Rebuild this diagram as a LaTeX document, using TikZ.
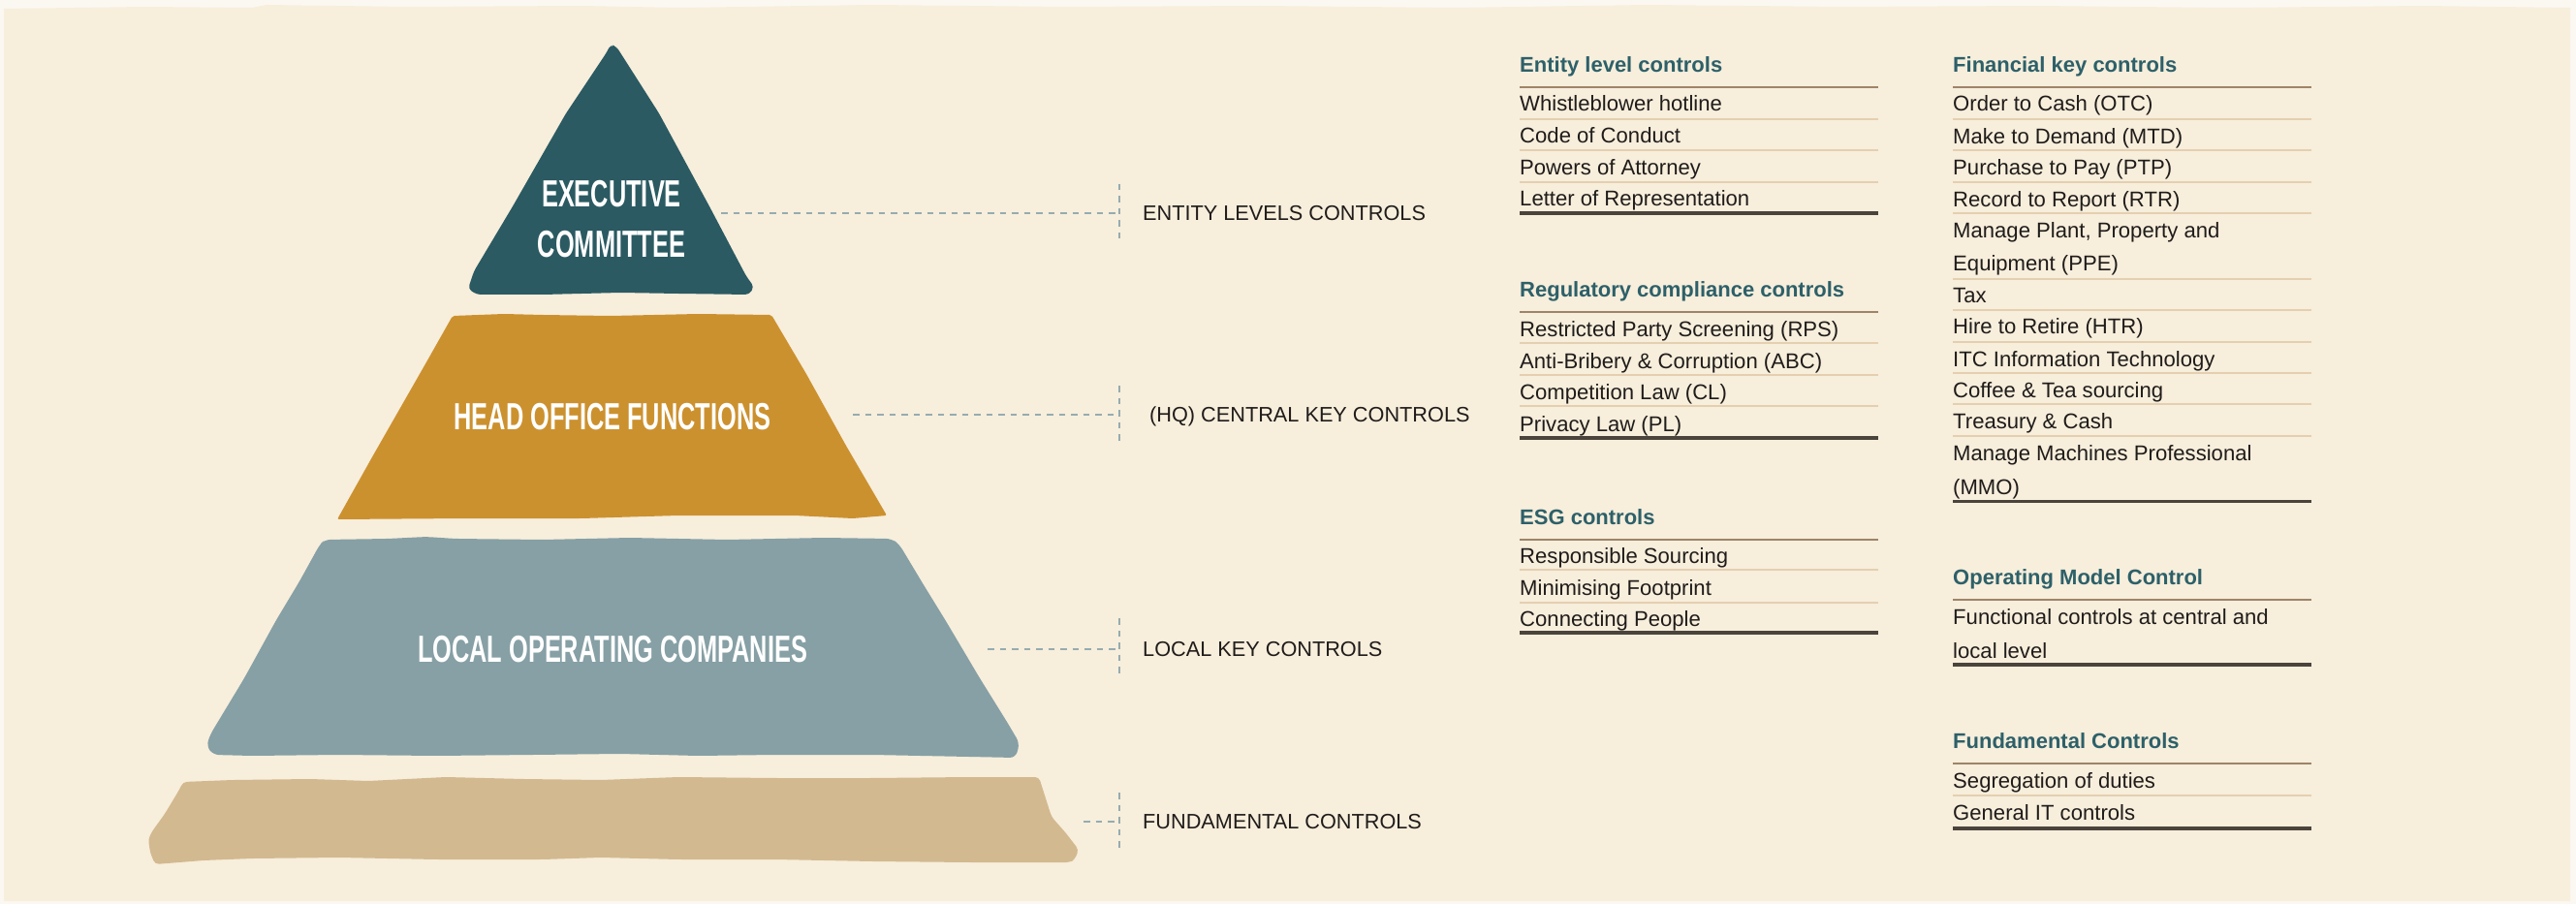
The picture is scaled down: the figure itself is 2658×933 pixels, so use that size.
\documentclass[tikz,border=0pt]{standalone}
\usepackage{fontspec}
\setmainfont{Liberation Sans}
\newfontfamily\condfont[FakeStretch=0.65]{Liberation Sans}
\definecolor{bgout}{HTML}{FBF8F2}
\definecolor{bg}{HTML}{F7EEDC}
\definecolor{execc}{HTML}{2B5A62}
\definecolor{hofc}{HTML}{CC912F}
\definecolor{locc}{HTML}{86A0A5}
\definecolor{fundc}{HTML}{D3B990}
\definecolor{headc}{HTML}{2D6069}
\definecolor{txtc}{HTML}{1F1C1A}
\definecolor{hrulec}{HTML}{9E8468}
\definecolor{irulec}{HTML}{E5CFB0}
\definecolor{trulec}{HTML}{4A443C}
\definecolor{dashc}{HTML}{96ACB0}
\tikzset{
  rowtext/.style={anchor=base west, inner sep=0pt, text=txtc, font=\fontsize{22.1}{26}\selectfont},
  headtext/.style={anchor=base west, inner sep=0pt, text=headc, font=\bfseries\fontsize{22}{26}\selectfont},
  lvltext/.style={anchor=base west, inner sep=0pt, text=txtc, font=\fontsize{21.7}{25}\selectfont},
  pyrtext/.style={inner sep=0pt, text=white, align=center, font={\condfont\bfseries\fontsize{39}{52}\selectfont}},
  conn/.style={draw=dashc, line width=1.7pt, dash pattern=on 6.5pt off 6pt},
  hrl/.style={draw=hrulec, line width=2pt},
  irl/.style={draw=irulec, line width=2pt},
  trl/.style={draw=trulec, line width=3.6pt},
}
\begin{document}
\begin{tikzpicture}[x=1pt,y=-1pt]
\useasboundingbox (0,0) rectangle (2658,933);
% background
\fill[bgout] (0,0) rectangle (2658,933);
\fill[bg] (4,9) -- (150,7) -- (260,8) -- (275,5) -- (420,7) -- (600,6) -- (700,8) -- (900,5) -- (1100,7) -- (1300,6) -- (1500,8) -- (1700,5) -- (1900,7) -- (2100,6) -- (2300,8) -- (2500,6) -- (2652,8) -- (2652,930) -- (4,930) -- cycle;

% pyramid shapes
\fill[execc, rounded corners=4pt] (626,54) -- (630,46) -- (636,48) -- (680,117) -- (732,213) -- (770,285) -- (778,296) -- (773,304) -- (700,303) -- (640,302) -- (560,304) -- (492,304) -- (483,298) -- (489,280) -- (529,213) -- (584,117) -- cycle;

\fill[hofc, rounded corners=2pt] (467,326) -- (520,324) -- (560,325) -- (630,326) -- (720,324) -- (796,325) -- (832,386) -- (873,460) -- (915,532) -- (880,535) -- (820,532) -- (700,532) -- (600,535) -- (480,535) -- (348,536) -- (362,511) -- (385,470) -- (409,428) -- (441,372) -- cycle;

\fill[locc, rounded corners=6pt] (330,562) -- (335,557) -- (400,556) -- (440,554) -- (470,556) -- (560,557) -- (650,555) -- (750,557) -- (850,555) -- (920,556) -- (928,562) -- (952,602) -- (976,641) -- (1011,700) -- (1039,745) -- (1052,767) -- (1048,782) -- (1000,781) -- (900,779) -- (800,779) -- (720,780) -- (640,778) -- (550,779) -- (450,780) -- (350,779) -- (260,780) -- (220,779) -- (213,770) -- (217,758) -- (252,700) -- (285,640) -- (309,600) -- cycle;

\fill[fundc, rounded corners=4pt] (189,807) -- (240,805) -- (320,804) -- (380,806) -- (460,802) -- (540,804) -- (620,805) -- (700,802) -- (800,803) -- (900,803) -- (1000,802) -- (1072,802) -- (1085,843) -- (1100,860) -- (1113,877) -- (1109,887) -- (1104,890) -- (1000,890) -- (900,889) -- (800,887) -- (700,887) -- (620,885) -- (560,887) -- (450,887) -- (350,885) -- (260,886) -- (210,888) -- (160,892) -- (155,880) -- (153,866) -- (157,858) -- (170,840) -- (185,815) -- cycle;

% pyramid labels
\node[pyrtext] (exec) at (631,226) {EXECUTIVE\\COMMITTEE};
\node[pyrtext] (hof) at (632,430) {HEAD OFFICE FUNCTIONS};
\node[pyrtext] (loc) at (632,670) {LOCAL OPERATING COMPANIES};

% connectors
\coordinate (eS) at (744,220);  \coordinate (eB) at (1155,220);
\coordinate (eT) at (1155,190); \coordinate (eD) at (1155,250);
\coordinate (hS) at (880,428);  \coordinate (hB) at (1155,428);
\coordinate (hT) at (1155,398); \coordinate (hD) at (1155,458);
\coordinate (lS) at (1019,670); \coordinate (lB) at (1155,670);
\coordinate (lT) at (1155,638); \coordinate (lD) at (1155,700);
\coordinate (fS) at (1118,848); \coordinate (fB) at (1155,848);
\coordinate (fT) at (1155,818); \coordinate (fD) at (1155,878);
\draw[conn] (eS) -- (eB); \draw[conn] (eT) -- (eD);
\draw[conn] (hS) -- (hB); \draw[conn] (hT) -- (hD);
\draw[conn] (lS) -- (lB); \draw[conn] (lT) -- (lD);
\draw[conn] (fS) -- (fB); \draw[conn] (fT) -- (fD);

\node[lvltext] (le) at (1179,227.5) {ENTITY LEVELS CONTROLS};
\node[lvltext] (lh) at (1186,435.5) {(HQ) CENTRAL KEY CONTROLS};
\node[lvltext] (ll) at (1179,677.5) {LOCAL KEY CONTROLS};
\node[lvltext] (lf) at (1179,855.5) {FUNDAMENTAL CONTROLS};

% column 1: entity level controls
\node[headtext] (h1) at (1568,75) {Entity level controls};
\draw[hrl] (1568,90) -- (1938,90);
\node[rowtext] (a1) at (1568,115) {Whistleblower hotline};
\draw[irl] (1568,123) -- (1938,123);
\node[rowtext] (a2) at (1568,148) {Code of Conduct};
\draw[irl] (1568,155) -- (1938,155);
\node[rowtext] (a3) at (1568,181) {Powers of Attorney};
\draw[irl] (1568,188) -- (1938,188);
\node[rowtext] (a4) at (1568,213) {Letter of Representation};
\draw[trl] (1568,220) -- (1938,220);

% regulatory
\node[headtext] (h2) at (1568,306) {Regulatory compliance controls};
\draw[hrl] (1568,322) -- (1938,322);
\node[rowtext] (b1) at (1568,347) {Restricted Party Screening (RPS)};
\draw[irl] (1568,354) -- (1938,354);
\node[rowtext] (b2) at (1568,380) {Anti-Bribery \& Corruption (ABC)};
\draw[irl] (1568,387) -- (1938,387);
\node[rowtext] (b3) at (1568,412) {Competition Law (CL)};
\draw[irl] (1568,419) -- (1938,419);
\node[rowtext] (b4) at (1568,445) {Privacy Law (PL)};
\draw[trl] (1568,452) -- (1938,452);

% ESG
\node[headtext] (h3) at (1568,541) {ESG controls};
\draw[hrl] (1568,557) -- (1938,557);
\node[rowtext] (c1) at (1568,581) {Responsible Sourcing};
\draw[irl] (1568,588) -- (1938,588);
\node[rowtext] (c2) at (1568,614) {Minimising Footprint};
\draw[irl] (1568,622) -- (1938,622);
\node[rowtext] (c3) at (1568,646) {Connecting People};
\draw[trl] (1568,653) -- (1938,653);

% column 2: financial
\node[headtext] (h4) at (2015,74.6) {Financial key controls};
\draw[hrl] (2015,90.5) -- (2385,90.5);
\node[rowtext] (d1) at (2015,115) {Order to Cash (OTC)};
\draw[irl] (2015,122.8) -- (2385,122.8);
\node[rowtext] (d2) at (2015,148.3) {Make to Demand (MTD)};
\draw[irl] (2015,155) -- (2385,155);
\node[rowtext] (d3) at (2015,180.6) {Purchase to Pay (PTP)};
\draw[irl] (2015,187.7) -- (2385,187.7);
\node[rowtext] (d4) at (2015,213.2) {Record to Report (RTR)};
\draw[irl] (2015,220.3) -- (2385,220.3);
\node[rowtext] (d5a) at (2015,245.8) {Manage Plant, Property and};
\node[rowtext] (d5b) at (2015,279.8) {Equipment (PPE)};
\draw[irl] (2015,287.6) -- (2385,287.6);
\node[rowtext] (d6) at (2015,312.5) {Tax};
\draw[irl] (2015,319.9) -- (2385,319.9);
\node[rowtext] (d7) at (2015,344.7) {Hire to Retire (HTR)};
\draw[irl] (2015,352.5) -- (2385,352.5);
\node[rowtext] (d8) at (2015,378) {ITC Information Technology};
\draw[irl] (2015,385.1) -- (2385,385.1);
\node[rowtext] (d9) at (2015,410.7) {Coffee \& Tea sourcing};
\draw[irl] (2015,417.4) -- (2385,417.4);
\node[rowtext] (d10) at (2015,442.9) {Treasury \& Cash};
\draw[irl] (2015,450) -- (2385,450);
\node[rowtext] (d11a) at (2015,475.2) {Manage Machines Professional};
\node[rowtext] (d11b) at (2015,510.3) {(MMO)};
\draw[trl] (2015,517.4) -- (2385,517.4);

% operating model
\node[headtext] (h5) at (2015,603) {Operating Model Control};
\draw[hrl] (2015,619) -- (2385,619);
\node[rowtext] (e1a) at (2015,644) {Functional controls at central and};
\node[rowtext] (e1b) at (2015,679) {local level};
\draw[trl] (2015,686) -- (2385,686);

% fundamental
\node[headtext] (h6) at (2015,772) {Fundamental Controls};
\draw[hrl] (2015,788) -- (2385,788);
\node[rowtext] (g1) at (2015,813) {Segregation of duties};
\draw[irl] (2015,821) -- (2385,821);
\node[rowtext] (g2) at (2015,846) {General IT controls};
\draw[trl] (2015,855) -- (2385,855);
\end{tikzpicture}
\end{document}
